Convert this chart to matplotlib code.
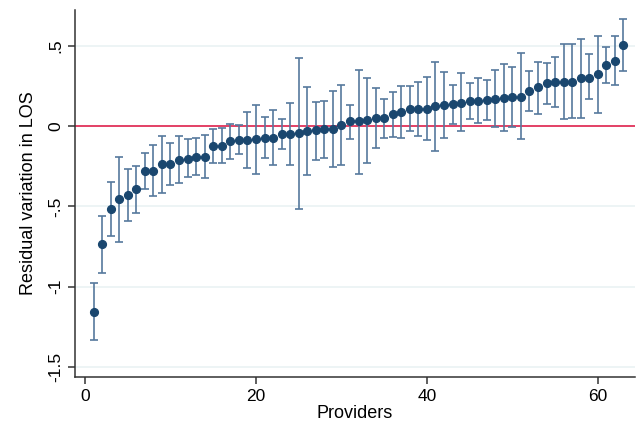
import matplotlib
matplotlib.use("Agg")
import matplotlib.pyplot as plt
import numpy as np

plt.rcParams['font.family'] = ['Liberation Sans', 'DejaVu Sans']

# residuals, sorted by provider rank
est = [-1.157, -0.737, -0.515, -0.455, -0.432, -0.395, -0.278, -0.278, -0.239, -0.237,
       -0.212, -0.202, -0.193, -0.193, -0.127, -0.123, -0.093, -0.087, -0.087, -0.081,
       -0.071, -0.071, -0.052, -0.048, -0.044, -0.031, -0.027, -0.019, -0.021, 0.010,
       0.031, 0.031, 0.035, 0.048, 0.052, 0.077, 0.089, 0.108, 0.108, 0.108,
       0.123, 0.129, 0.137, 0.147, 0.154, 0.158, 0.160, 0.168, 0.174, 0.181,
       0.181, 0.218, 0.242, 0.268, 0.276, 0.278, 0.278, 0.297, 0.303, 0.322,
       0.378, 0.409, 0.503]
upper = [-0.980, -0.559, -0.351, -0.191, -0.270, -0.247, -0.170, -0.118, -0.060, -0.104,
         -0.064, -0.083, -0.077, -0.054, -0.019, -0.010, 0.012, 0.004, 0.085, 0.129,
         0.054, 0.099, 0.046, 0.145, 0.422, 0.241, 0.150, 0.156, 0.220, 0.257,
         0.133, 0.351, 0.301, 0.235, 0.170, 0.214, 0.249, 0.249, 0.276, 0.307,
         0.399, 0.335, 0.258, 0.332, 0.266, 0.301, 0.287, 0.351, 0.388, 0.366,
         0.453, 0.343, 0.401, 0.394, 0.430, 0.511, 0.511, 0.546, 0.447, 0.563,
         0.494, 0.561, 0.667]
lower = [-1.333, -0.914, -0.683, -0.725, -0.594, -0.540, -0.393, -0.434, -0.419, -0.368,
         -0.355, -0.320, -0.307, -0.326, -0.233, -0.233, -0.206, -0.174, -0.258, -0.299,
         -0.197, -0.242, -0.145, -0.241, -0.515, -0.305, -0.212, -0.197, -0.256, -0.241,
         -0.081, -0.297, -0.233, -0.139, -0.075, -0.069, -0.077, -0.029, -0.062, -0.089,
         -0.154, -0.077, 0.012, -0.031, 0.046, 0.019, 0.040, -0.008, -0.031, -0.004,
         -0.081, 0.095, 0.078, 0.135, 0.120, 0.044, 0.048, 0.048, 0.166, 0.083,
         0.266, 0.255, 0.343]
yticks = [-1.5, -1, -0.5, 0, 0.5]
ytick_labels = ['-1.5', '-1', '-.5', '0', '.5']
xticks = [0, 20, 40, 60]

rank = np.arange(1, len(est) + 1)
est = np.array(est)
yerr = [est - np.array(lower), np.array(upper) - est]

fig = plt.figure(figsize=(6.38, 4.22), dpi=100)
ax = fig.add_axes([0.1176, 0.1066, 0.877, 0.8694])

for y in yticks:
    ax.axhline(y, color='#eaf2f3', lw=1.2, zorder=0)
ax.axhline(0, color='#e0103f', lw=1.1, zorder=1)

ax.errorbar(rank, est, yerr=yerr, fmt='none', ecolor='#56799d', elinewidth=1.2,
            capsize=2.6, capthick=1.2, zorder=2)
ax.plot(rank, est, 'o', color='#1a476f', ms=5.6, zorder=3)

ax.set_xlim(-1.17, 64.3)
ax.set_ylim(-1.564, 0.723)
ax.set_yticks(yticks)
ax.set_yticklabels(ytick_labels, rotation=90, va='center')
ax.set_xticks(xticks)

for s in ['top', 'right']:
    ax.spines[s].set_visible(False)
for s in ['left', 'bottom']:
    ax.spines[s].set_color('#333333')
    ax.spines[s].set_linewidth(1.1)
ax.tick_params(direction='out', length=5, width=1.1, color='#333333', labelsize=12.5)

ax.set_xlabel('Providers', fontsize=13, labelpad=1)
ax.set_ylabel('Residual variation in LOS', fontsize=13, labelpad=8)

fig.savefig('out.png', dpi=100)
